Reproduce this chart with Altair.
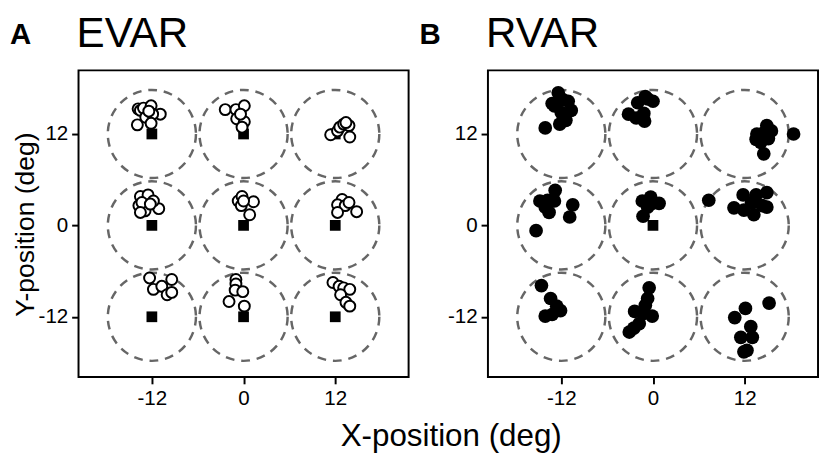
import altair as alt
import pandas as pd

ticks = [-12, 0, 12]
target_x = [-12, 0, 12, -12, 0, 12, -12, 0, 12]
target_y = [12, 12, 12, 0, 0, 0, -12, -12, -12]

evar_x = [-13.8, -13.5, -13.1, -12.1, -10.9, -12.8, -11.9, -13.9, -12.1, -12.4,
          -2.4, -1.0, 0.1, -0.9, 0.1, -0.2, -0.4,
          11.4, 12.3, 12.6, 13.1, 13.8, 13.9, 13.4,
          -13.5, -12.5, -13.7, -12.9, -11.1, -11.8, -13.3, -13.5, -12.2,
          -0.7, -0.2, 1.3, -0.3, 0.8, 0.0,
          12.9, 12.3, 13.3, 14.8, 12.3, 13.8,
          -12.3, -11.8, -10.7, -9.4, -10.0, -9.4,
          -1.0, -1.0, -1.1, -0.1, -1.9, 0.1,
          11.7, 12.5, 13.1, 13.9, 12.7, 13.4, 13.9]
evar_y = [15.3, 15.1, 15.4, 15.7, 14.6, 14.2, 14.6, 13.2, 13.4, 15.0,
          15.2, 15.2, 15.7, 14.0, 13.6, 12.9, 14.6,
          11.9, 12.4, 12.9, 13.3, 13.1, 11.6, 13.5,
          3.8, 4.0, 2.6, 1.9, 2.2, 3.2, 3.0, 1.7, 2.8,
          3.2, 3.8, 3.1, 2.6, 1.4, 3.2,
          3.4, 2.7, 2.6, 1.8, 1.7, 3.0,
          -6.9, -8.4, -8.0, -7.1, -9.1, -8.8,
          -7.1, -7.7, -8.5, -8.7, -10.0, -10.6,
          -7.5, -8.0, -8.2, -8.4, -9.1, -10.1, -10.6]

rvar_x = [-12.4, -13.2, -11.8, -10.7, -12.0, -11.4, -12.2, -14.1, -11.1, -12.9,
          -3.2, -2.2, -1.1, -1.2, -2.0, -1.0, 0.0, -0.7,
          13.5, 14.9, 14.6, 14.1, 14.5, 15.5, 13.6, 15.1, 18.4,
          -15.3, -14.8, -13.8, -12.8, -12.9, -13.6, -10.5, -10.9, -14.1,
          -1.4, -0.3, 0.8, -0.7, -1.3, -0.1,
          7.3, 10.6, 11.8, 11.9, 13.2, 14.3, 14.9, 14.9, 13.5, 12.9,
          -14.6, -13.4, -12.6, -12.1, -14.1, -13.2,
          -0.5, -0.7, -1.0, -2.4, -0.1, -1.3, -1.8, -3.1, -2.5,
          12.1, 10.7, 12.8, 11.5, 13.0, 12.3, 11.9, 15.2]
rvar_y = [17.4, 16.0, 16.5, 15.1, 14.8, 13.8, 13.3, 12.8, 16.3, 15.7,
          14.6, 14.1, 13.7, 14.7, 16.1, 16.9, 16.3, 16.6,
          11.3, 13.1, 12.2, 10.9, 9.4, 12.4, 12.0, 11.4, 12.0,
          -0.7, 3.2, 3.3, 4.6, 3.2, 1.7, 2.7, 1.1, 2.4,
          3.2, 3.7, 2.9, 2.4, 1.2, 2.9,
          3.3, 2.3, 4.0, 2.0, 1.4, 2.6, 2.4, 4.3, 4.0, 3.0,
          -7.9, -9.6, -10.6, -11.2, -11.9, -11.7,
          -8.2, -9.6, -10.5, -11.3, -11.9, -11.6, -12.9, -14.0, -13.5,
          -10.9, -12.1, -13.3, -14.7, -14.7, -16.4, -16.6, -10.2]

evar_square_x = target_x
evar_square_y = target_y
rvar_square_x = [0]
rvar_square_y = [0]

FONT = "Liberation Sans"
XDOM = [-21.6, 21.6]
YDOM = [-19.9, 20.35]
LABEL_EXPR = "'' + datum.value"


def panel(px, py, sqx, sqy, filled, letter, name, ytitle):
    xs = alt.Scale(domain=XDOM, nice=False, zero=False)
    ys = alt.Scale(domain=YDOM, nice=False, zero=False)
    xax = alt.Axis(values=ticks, title=None, labelExpr=LABEL_EXPR)
    if ytitle:
        yax = alt.Axis(values=ticks, title=ytitle, labelExpr=LABEL_EXPR,
                       titleX=-40, titleY=157, titleAnchor="middle")
    else:
        yax = alt.Axis(values=ticks, title=None, labelExpr=LABEL_EXPR)
    X = alt.X("x:Q", scale=xs, axis=xax)
    Y = alt.Y("y:Q", scale=ys, axis=yax)

    targets = pd.DataFrame({"x": target_x, "y": target_y})
    squares = pd.DataFrame({"x": sqx, "y": sqy})
    pts = pd.DataFrame({"x": px, "y": py})

    rings = alt.Chart(targets).mark_point(
        shape="circle", size=8100, filled=False, color="#666666",
        strokeWidth=2.5, strokeDash=[9, 7], opacity=1
    ).encode(x=X, y=Y)
    sq = alt.Chart(squares).mark_point(
        shape="square", size=120, filled=True, color="black", opacity=1
    ).encode(x=X, y=Y)
    if filled:
        dots = alt.Chart(pts).mark_point(
            shape="circle", size=196, filled=True, color="black", opacity=1
        ).encode(x=X, y=Y)
    else:
        dots = alt.Chart(pts).mark_point(
            shape="circle", size=125, filled=True, fill="white", stroke="black",
            strokeWidth=2, opacity=1
        ).encode(x=X, y=Y)
    lab = alt.Chart(pd.DataFrame({"t": [letter]})).mark_text(
        font=FONT, fontSize=30, fontWeight="bold", align="left",
        baseline="alphabetic", color="black"
    ).encode(text="t:N", x=alt.value(-70), y=alt.value(-27))
    ttl = alt.Chart(pd.DataFrame({"t": [name]})).mark_text(
        font=FONT, fontSize=43, align="left", baseline="alphabetic", color="black"
    ).encode(text="t:N", x=alt.value(-2), y=alt.value(-24))
    return alt.layer(rings, sq, dots, lab, ttl).properties(width=337, height=313)


a = panel(evar_x, evar_y, evar_square_x, evar_square_y, False, "A", "EVAR",
          "Y-position (deg)")
b = panel(rvar_x, rvar_y, rvar_square_x, rvar_square_y, True, "B", "RVAR", None)

chart = alt.hconcat(a, b, spacing=9).properties(
    padding={"left": 1, "top": 0, "right": 0, "bottom": 0},
    title=alt.TitleParams(
        "X-position (deg)", orient="bottom", anchor="middle", fontSize=32,
        font=FONT, fontWeight="normal", color="black", dx=38, offset=12
    ),
).configure_view(
    stroke="black", strokeWidth=2
).configure_axis(
    domain=False, grid=False, ticks=True, tickSize=7, tickWidth=2,
    tickColor="black", labelFont=FONT, labelFontSize=21, labelColor="black",
    labelPadding=4, titleFont=FONT, titleFontSize=27, titleFontWeight="normal",
    titleColor="black", titlePadding=6
)

chart.save("out.html", embed_options={"renderer": "svg", "actions": False})
